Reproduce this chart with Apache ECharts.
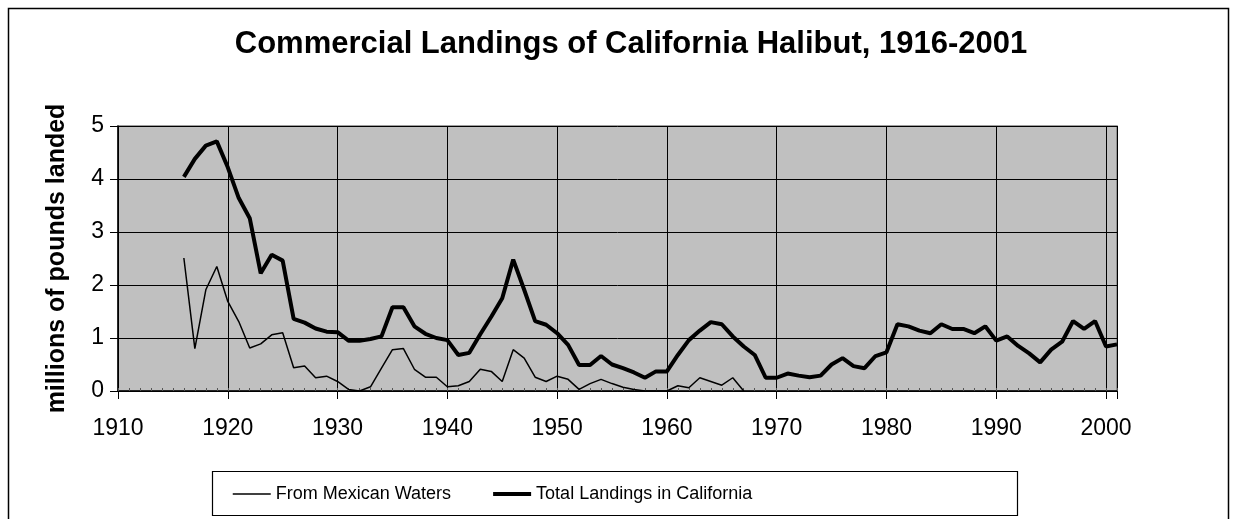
<!DOCTYPE html>
<html>
<head>
<meta charset="utf-8">
<script src="https://cdn.jsdelivr.net/npm/echarts@6/dist/echarts.min.js"></script>
<style>
html,body{margin:0;padding:0;background:#fff;}
#chart{width:1235px;height:519px;}
</style>
</head>
<body>
<div id="chart"></div>
<script>
var titleText = 'Commercial Landings of California Halibut, 1916-2001';
var yAxisTitle = 'millions of pounds landed';
var seriesNames = ['From Mexican Waters', 'Total Landings in California'];

var totalYears = [];
for (var yr = 1916; yr <= 2001; yr++) totalYears.push(yr);
var mexicoYears = [];
for (var yr2 = 1916; yr2 <= 1967; yr2++) mexicoYears.push(yr2);

var totalValues = [
  4.04, 4.38, 4.63, 4.71, 4.22, 3.64, 3.26, 2.22, 2.57, 2.46,
  1.36, 1.29, 1.18, 1.12, 1.11, 0.95, 0.95, 0.98, 1.03, 1.58,
  1.58, 1.22, 1.08, 1.00, 0.96, 0.68, 0.72, 1.07, 1.40, 1.75,
  2.48, 1.91, 1.32, 1.25, 1.09, 0.87, 0.49, 0.49, 0.66, 0.50,
  0.43, 0.35, 0.25, 0.37, 0.37, 0.68, 0.96, 1.14, 1.30, 1.26,
  1.03, 0.84, 0.68, 0.25, 0.25, 0.33, 0.29, 0.26, 0.29, 0.50,
  0.62, 0.47, 0.43, 0.66, 0.73, 1.26, 1.22, 1.14, 1.09, 1.26,
  1.17, 1.17, 1.09, 1.22, 0.95, 1.03, 0.85, 0.71, 0.54, 0.78,
  0.93, 1.32, 1.17, 1.32, 0.84, 0.88
];
var mexicoValues = [
  2.51, 0.80, 1.91, 2.35, 1.69, 1.31, 0.81, 0.89, 1.06, 1.10,
  0.44, 0.47, 0.25, 0.28, 0.18, 0.03, 0.00, 0.08, 0.43, 0.78,
  0.80, 0.41, 0.26, 0.26, 0.08, 0.10, 0.18, 0.41, 0.37, 0.18,
  0.78, 0.62, 0.26, 0.18, 0.28, 0.22, 0.03, 0.14, 0.22, 0.14,
  0.07, 0.03, 0.00, 0.00, 0.00, 0.10, 0.06, 0.25, 0.18, 0.11,
  0.25, 0.00
];

var xMin = 1910, xMax = 2001, xStep = 10;
var yMin = 0, yMax = 5, yStep = 1;

function pairs(xs, ys) {
  var out = [];
  for (var i = 0; i < ys.length; i++) out.push([xs[i], ys[i]]);
  return out;
}

var FONT = '"Liberation Sans", Arial, sans-serif';
var chart = echarts.init(document.getElementById('chart'), null, {renderer: 'canvas'});
chart.setOption({
  animation: false,
  backgroundColor: '#ffffff',
  title: {
    text: titleText,
    left: 626, textAlign: 'center',
    top: 24,
    textStyle: {fontFamily: FONT, fontSize: 31, fontWeight: 'bold', color: '#000'}
  },
  grid: {
    left: 118, right: 118, top: 126, bottom: 128,
    show: true, backgroundColor: '#c0c0c0', borderColor: '#808080', borderWidth: 1.5
  },
  legend: {
    left: 232, top: 485, padding: 0,
    orient: 'horizontal',
    itemWidth: 38, itemHeight: 14, itemGap: 40,
    itemStyle: {opacity: 0},
    textStyle: {fontFamily: FONT, fontSize: 18, color: '#000'},
    data: [
      {name: seriesNames[0], lineStyle: {color: '#000', width: 1.5}},
      {name: seriesNames[1], lineStyle: {color: '#000', width: 4}}
    ]
  },
  xAxis: [{
    type: 'value', min: xMin, max: xMax, interval: xStep,
    axisLine: {show: true, lineStyle: {color: '#000', width: 1.5}},
    axisTick: {show: true, length: 8, lineStyle: {color: '#000', width: 1}},
    axisLabel: {
      fontFamily: FONT, fontSize: 23, color: '#000', margin: 26,
      formatter: function (v) { return (v % 10 === 0) ? String(v) : ''; }
    },
    splitLine: {show: true, lineStyle: {color: '#000', width: 1}}
  }, {
    type: 'value', min: xMin, max: xMax, interval: 1, gridIndex: 0, position: 'bottom',
    axisLine: {show: false},
    axisTick: {show: true, inside: true, length: 3, lineStyle: {color: '#555', width: 1}},
    axisLabel: {show: false},
    splitLine: {show: false}
  }],
  yAxis: {
    type: 'value', min: yMin, max: yMax, interval: yStep,
    name: yAxisTitle, nameLocation: 'middle', nameRotate: 90, nameGap: 48,
    nameTextStyle: {fontFamily: FONT, fontSize: 25, fontWeight: 'bold', color: '#000'},
    axisLine: {show: true, lineStyle: {color: '#000', width: 1.5}},
    axisTick: {show: true, length: 8, lineStyle: {color: '#000', width: 1}},
    axisLabel: {fontFamily: FONT, fontSize: 23, color: '#000', margin: 14},
    splitLine: {show: true, lineStyle: {color: '#000', width: 1}}
  },
  graphic: [
    {type: 'rect', silent: true, z: 100,
     shape: {x: 8.5, y: 8.5, width: 1220, height: 530},
     style: {fill: null, stroke: '#000', lineWidth: 1.5}},
    {type: 'rect', silent: true, z: 100,
     shape: {x: 212.5, y: 471.5, width: 805, height: 44},
     style: {fill: null, stroke: '#000', lineWidth: 1.2}}
  ],
  series: [
    {
      name: seriesNames[0], type: 'line', xAxisIndex: 0,
      data: pairs(mexicoYears, mexicoValues),
      showSymbol: false, symbol: 'none',
      lineStyle: {color: '#000', width: 1.5},
      itemStyle: {color: '#000'}
    },
    {
      name: seriesNames[1], type: 'line', xAxisIndex: 0,
      data: pairs(totalYears, totalValues),
      showSymbol: false, symbol: 'none',
      lineStyle: {color: '#000', width: 4},
      itemStyle: {color: '#000'}
    }
  ]
});
</script>
</body>
</html>
